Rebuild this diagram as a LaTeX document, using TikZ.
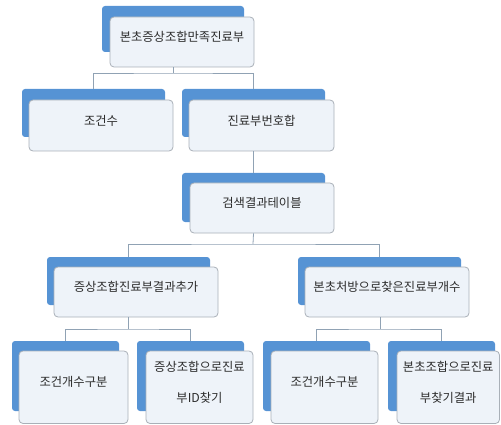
\documentclass[tikz,border=0pt]{standalone}
\usepackage{fontspec}
\usetikzlibrary{fit}
\newfontfamily\krfont{Noto Sans CJK KR}
\definecolor{bluebk}{HTML}{5693D4}
\definecolor{wfill}{HTML}{EEF3F9}
\definecolor{wline}{HTML}{A9B0B8}
\definecolor{conn}{HTML}{90A2B4}
\definecolor{txt}{HTML}{2C2C2C}
\tikzset{
  bbox/.style={fill=bluebk, draw=none, rounded corners=3pt, inner sep=0pt},
  wbox/.style={fill=wfill, draw=wline, line width=0.8pt, rounded corners=4pt, inner sep=0pt,
    text=txt, font=\krfont\fontsize{12.3}{31}\selectfont, align=center},
  link/.style={draw=conn, line width=0.8pt}
}
\begin{document}
\begin{tikzpicture}[x=1pt,y=-1pt]
\useasboundingbox (0,0) rectangle (501,425);
% row 1
\node[bbox, fit={(102,6) (244,52)}] (r1b) {};
\node[wbox, fit={(110,17) (254,67)}] (r1) {본초증상조합만족진료부};
% row 2
\node[bbox, fit={(22,89) (165,137)}] (r2ab) {};
\node[wbox, fit={(29,100) (173,151)}] (r2a) {조건수};
\node[bbox, fit={(182,89) (325,137)}] (r2bb) {};
\node[wbox, fit={(189,100) (334,151)}] (r2b) {진료부번호합};
% row 3
\node[bbox, fit={(182,173) (325,222)}] (r3b) {};
\node[wbox, fit={(190,183) (334,233)}] (r3) {검색결과테이블};
% row 4
\node[bbox, fit={(47,257) (210,305)}] (r4ab) {};
\node[wbox, fit={(54,267) (218,317)}] (r4a) {증상조합진료부결과추가};
\node[bbox, fit={(298,257) (461,305)}] (r4bb) {};
\node[wbox, fit={(305,267) (469,317)}] (r4b) {본초처방으로찾은진료부개수};
% row 5
\node[bbox, fit={(12,341) (119,411)}] (r5ab) {};
\node[wbox, fit={(19,351) (128,423.5)}] (r5a) {조건개수구분};
\node[bbox, fit={(137,341) (244,411)}] (r5bb) {};
\node[wbox, fit={(146,351) (253,423.5)}] (r5b) {증상조합으로진료\\부ID찾기};
\node[bbox, fit={(263,341) (370,411)}] (r5cb) {};
\node[wbox, fit={(271,351) (378,423.5)}] (r5c) {조건개수구분};
\node[bbox, fit={(388,341) (495,411)}] (r5db) {};
\node[wbox, fit={(397,351) (499.5,423.5)}] (r5d) {본초조합으로진료\\부찾기결과};
% connectors
\coordinate (j1) at (173,73);
\coordinate (j3) at (253,244);
\coordinate (j4a) at (128.5,329);
\coordinate (j4b) at (380,329);
\draw[link] (r1.south -| r1b) -- (j1);
\draw[link] (r2ab.north) |- (j1) -| (r2bb.north);
\draw[link] (r2b.south -| r2bb) -- (r3b.north);
\draw[link] (r3.south -| r3b) -- (j3);
\draw[link] (r4ab.north) |- (j3) -| (r4bb.north);
\draw[link] (r4a.south -| r4ab) -- (j4a);
\draw[link] (r5ab.north) |- (j4a) -| (r5bb.north);
\draw[link] (r4b.south -| j4b) -- (j4b);
\draw[link] (r5cb.north) |- (j4b) -| (r5db.north);
\end{tikzpicture}
\end{document}
